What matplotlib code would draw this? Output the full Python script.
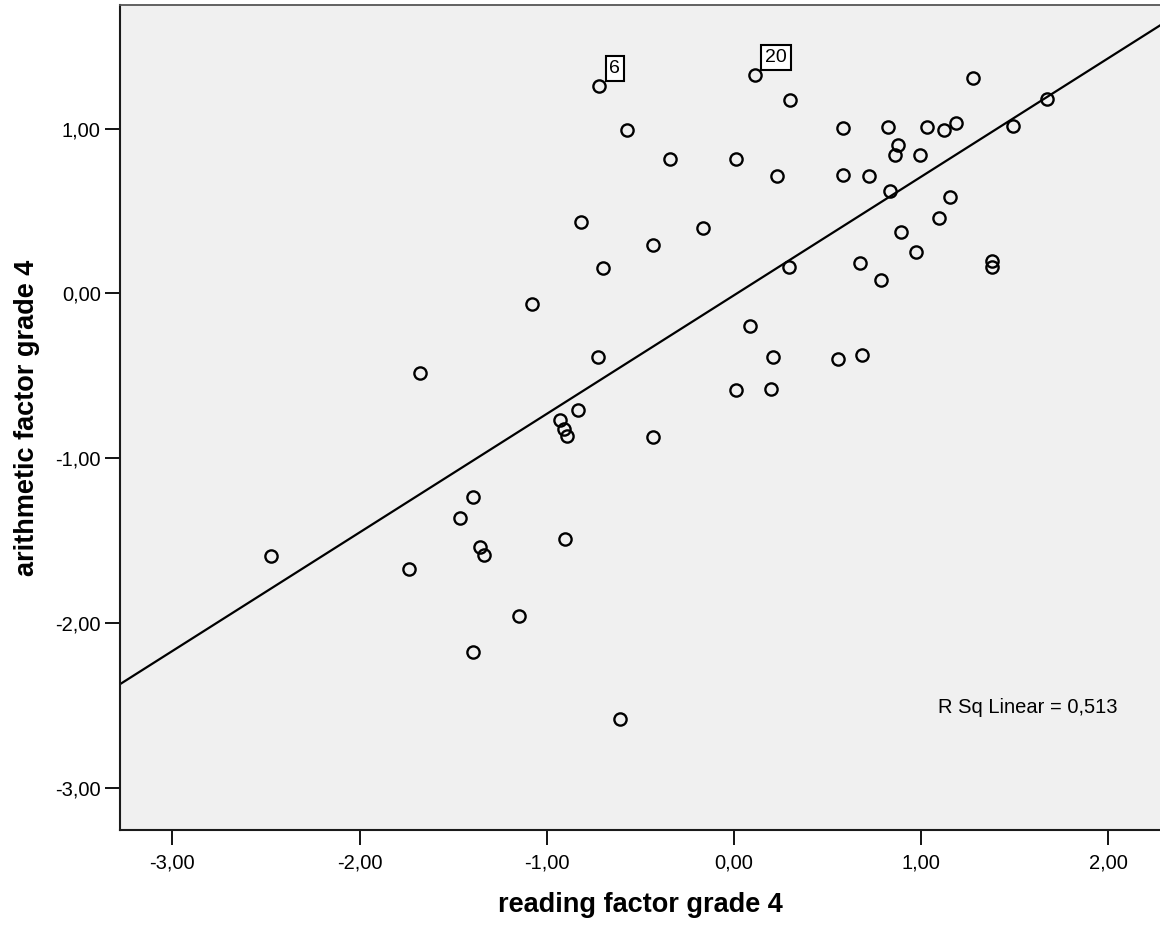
import matplotlib
matplotlib.use("Agg")
import matplotlib.pyplot as plt
import numpy as np

# ---- data ----
reading = [-2.473, -1.736, -1.677, -1.464, -1.396, -1.357, -1.335, -1.396, -1.147, -1.079,
           -0.901, -0.929, -0.908, -0.894, -0.833, -0.817, -0.726, -0.701, -0.720, -0.572,
           -0.609, -0.431, -0.431, -0.342, -0.164, 0.011, 0.009, 0.087, 0.112, 0.208,
           0.199, 0.230, 0.299, 0.295, 0.556, 0.582, 0.582, 0.673, 0.684, 0.721,
           0.785, 0.823, 0.833, 0.860, 0.876, 0.892, 0.972, 0.994, 1.029, 1.095,
           1.123, 1.154, 1.186, 1.278, 1.378, 1.378, 1.489, 1.670]
arithmetic = [-1.592, -1.671, -0.482, -1.364, -1.236, -1.539, -1.588, -2.175, -1.954, -0.063,
              -1.489, -0.767, -0.822, -0.862, -0.709, 0.434, -0.383, 0.154, 1.260, 0.993,
              -2.581, 0.291, -0.872, 0.817, 0.400, 0.817, -0.585, -0.198, 1.326, -0.383,
              -0.579, 0.714, 1.175, 0.163, -0.397, 1.005, 0.720, 0.186, -0.373, 0.714,
              0.083, 1.011, 0.623, 0.841, 0.902, 0.374, 0.253, 0.837, 1.011, 0.459,
              0.993, 0.588, 1.037, 1.308, 0.198, 0.161, 1.013, 1.179]
case_labels = ["6", "20"]
case_index = [18, 28]
xticks = [-3, -2, -1, 0, 1, 2]
yticks = [-3, -2, -1, 0, 1]
r2_text = "R Sq Linear = 0,513"
xlabel = "reading factor grade 4"
ylabel = "arithmetic factor grade 4"

x = np.array(reading)
y = np.array(arithmetic)

plt.rcParams['font.family'] = ['Liberation Sans', 'DejaVu Sans']

fig = plt.figure(figsize=(11.6, 9.27), dpi=100)
ax = fig.add_axes([120/1160, (927-830)/927, 1 - 120/1160, 825/927])
ax.set_facecolor('#f0f0f0')

xlim = (-3.280, 2.276)
ylim = (-3.255, 1.750)
ax.set_xlim(*xlim)
ax.set_ylim(*ylim)

# regression line
slope, intercept = np.polyfit(x, y, 1)
lx = np.array(xlim)
ax.plot(lx, intercept + slope * lx, color='black', lw=1.6, zorder=2)

ax.plot(x, y, linestyle='none', marker='o', markersize=8.8, markerfacecolor='none',
        markeredgecolor='black', markeredgewidth=1.7, zorder=3)

for lab, idx in zip(case_labels, case_index):
    ax.annotate(lab, (x[idx], y[idx]), xytext=(7.4, 6.4), textcoords='offset points',
                ha='left', va='bottom', fontsize=14,
                bbox=dict(boxstyle='square,pad=0.2', facecolor='white',
                          edgecolor='black', linewidth=1.5), zorder=4)

ax.text(1.090, -2.512, r2_text, ha='left', va='center', fontsize=14.5)

ax.set_xticks(xticks)
ax.set_yticks(yticks)
ax.set_xticklabels([f"{v:.2f}".replace('.', ',') for v in xticks])
ax.set_yticklabels([f"{v:.2f}".replace('.', ',') for v in yticks])
ax.tick_params(axis='both', direction='out', length=10.8, width=1.3, labelsize=14.5,
               color='black')
ax.tick_params(axis='x', pad=6)
ax.tick_params(axis='y', pad=3)

ax.spines['right'].set_visible(False)
ax.spines['left'].set_linewidth(1.5)
ax.spines['bottom'].set_linewidth(1.5)
ax.spines['left'].set_color('#1a1a1a')
ax.spines['bottom'].set_color('#1a1a1a')
ax.spines['top'].set_linewidth(1.3)
ax.spines['top'].set_color('#555555')

ax.set_xlabel(xlabel, fontsize=19.5, fontweight='bold', labelpad=14)
ax.set_ylabel(ylabel, fontsize=19.5, fontweight='bold', labelpad=11)

fig.savefig('out.png', dpi=100, facecolor='white')
